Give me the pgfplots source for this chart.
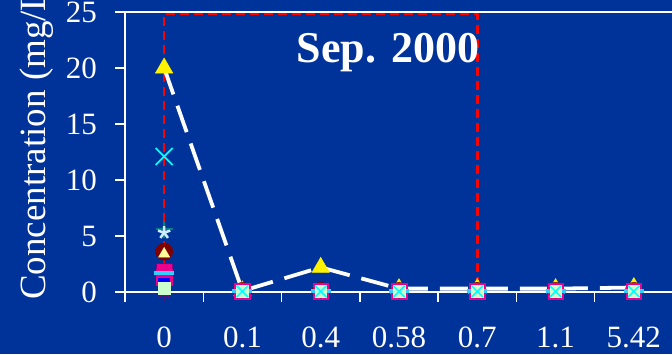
\documentclass[border=0pt]{standalone}
\usepackage{pgfplots}
\pgfplotsset{compat=1.18}
\usepackage{fontspec}
\setmainfont{Liberation Serif}
\definecolor{bg}{HTML}{003399}
\definecolor{lyel}{HTML}{FFFF99}
\definecolor{dred}{HTML}{800000}
\definecolor{lgreen}{HTML}{CCFFCC}
\definecolor{lblue}{HTML}{CCECFF}
\definecolor{tealc}{HTML}{008080}
\definecolor{skyc}{HTML}{33CCFF}
\definecolor{purp}{HTML}{800080}
\definecolor{cyanx}{HTML}{00FFFF}
\begin{document}
\begin{tikzpicture}
\fill[bg] (0,0) rectangle (672pt,354pt);
\path[use as bounding box] (0,0) rectangle (672pt,354pt);
\clip (0,0) rectangle (672pt,354pt);
\begin{axis}[
  at={(125pt,62pt)}, anchor=south west,
  scale only axis, width=548pt, height=280pt,
  xmin=-0.5, xmax=6.5, ymin=0, ymax=25,
  clip=false,
  axis line style={white, line width=1.5pt},
  every tick/.style={white, line width=1.5pt},
  tick align=outside, major tick length=10pt,
  xtick pos=bottom, ytick pos=left,
  xtick={-0.5,0.5,1.5,2.5,3.5,4.5,5.5,6.5},
  xticklabels={0,0.1,0.4,0.58,0.7,1.1,5.42,{}},
  ytick={0,5,10,15,20,25},
  /pgf/number format/assume math mode=true,
  tick label style={text=white, font=\fontsize{31}{36}\selectfont},
  xticklabel style={anchor=north, inner sep=0pt, xshift=39.15pt, yshift=-25pt},
  yticklabel style={anchor=east, inner sep=0pt, xshift=-18pt},
]
% red dashed frame
\addplot[red, line width=2.5pt, dash pattern=on 9pt off 5pt, mark=none] coordinates {(0,0) (0,24.8) (4,24.8) (4,0)};
% main series
\addplot[white, line width=3.8pt, dash pattern=on 28pt off 12pt, mark=triangle*, mark size=10pt, mark options={solid, fill=yellow, draw=yellow, line width=0.5pt}]
  coordinates {(0,20) (1,0.1) (2,2.2) (3,0.3) (4,0.3) (5,0.3) (6,0.4)};
\addplot[only marks, mark=+, mark size=8.5pt, tealc, line width=1.8pt]
  coordinates {(0,5.6) (1,0.05) (2,0.05) (3,0.05) (4,0.05) (5,0.05) (6,0.05)};
\addplot[only marks, mark=star, mark size=6.5pt, lblue, line width=2.5pt]
  coordinates {(0,5.3) (1,0.05) (2,0.05) (3,0.05) (4,0.05) (5,0.05) (6,0.05)};
\addplot[only marks, mark=*, mark size=8.6pt, dred, mark options={fill=dred, draw=dred}]
  coordinates {(0,3.6) (1,0.1) (2,0.1) (3,0.1) (4,0.1) (5,0.1) (6,0.1)};
\addplot[only marks, mark=triangle*, mark size=6.5pt, mark options={fill=lyel, draw=lyel}]
  coordinates {(0,3.4) (1,-0.1) (2,-0.1) (3,-0.1) (4,-0.1) (5,-0.1) (6,-0.1)};
\addplot[only marks, mark=square*, mark size=7.8pt, mark options={fill=magenta, draw=purp, line width=0.8pt}]
  coordinates {(0,1.9) (1,0.05) (2,0.05) (3,0.05) (4,0.05) (5,0.05) (6,0.05)};
\addplot[only marks, mark=square*, mark size=7.8pt, mark options={fill=magenta, draw=magenta}]
  coordinates {(0,1.3) (1,0.05) (2,0.05) (3,0.05) (4,0.05) (5,0.05) (6,0.05)};
\addplot[only marks, mark=square*, mark size=5.5pt, mark options={fill=blue, draw=blue}]
  coordinates {(0,0.7) (1,0.05) (2,0.05) (3,0.05) (4,0.05) (5,0.05) (6,0.05)};
\addplot[only marks, mark=-, mark size=10pt, skyc, line width=4pt]
  coordinates {(0,1.7) (1,0.05) (2,0.05) (3,0.05) (4,0.05) (5,0.05) (6,0.05)};
\addplot[only marks, mark=asterisk, mark size=6.5pt, purp, line width=1.2pt]
  coordinates {(0,-0.2) (1,0) (2,0) (3,0) (4,0) (5,0) (6,0)};
\addplot[only marks, mark=square*, mark size=5.8pt, mark options={fill=lgreen, draw=lgreen}]
  coordinates {(0,0.35) (1,0.05) (2,0.05) (3,0.05) (4,0.05) (5,0.05) (6,0.05)};
\addplot[only marks, mark=x, mark size=12pt, cyanx, line width=1.8pt]
  coordinates {(0,12.1)};
\addplot[only marks, mark=x, mark size=8pt, cyanx, line width=1.5pt]
  coordinates {(1,0.05) (2,0.05) (3,0.05) (4,0.05) (5,0.05) (6,0.05)};
\end{axis}
\node[anchor=base, text=white, font=\bfseries\fontsize{44}{50}\selectfont, inner sep=0pt] at (388pt,291pt) {Sep. 2000};
\node[rotate=90, anchor=base west, text=white, font=\fontsize{37}{42}\selectfont, inner sep=0pt] at (45pt,54pt) {Concentration (mg/L)};
\end{tikzpicture}
\end{document}
